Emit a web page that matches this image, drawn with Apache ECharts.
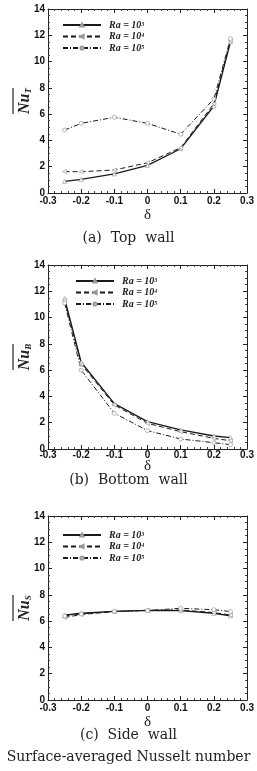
<!DOCTYPE html>
<html lang="en">
<head>
  <meta charset="UTF-8">
  <title>Surface-averaged Nusselt number</title>
  <script src="https://cdn.jsdelivr.net/npm/echarts@6/dist/echarts.min.js"></script>
  <style>
    html, body { margin: 0; padding: 0; background: #fff; }
  </style>
</head>
<body>
  <div id="chart" style="width:257px;height:771px"></div>
  <script>
    // delta values (x)
    var delta = [-0.25, -0.2, -0.1, 0, 0.1, 0.2, 0.25]
    var raNames = ['Ra3', 'Ra4', 'Ra5']
    var raExp = ['3', '4', '5']

    // (a) top wall
    var topRa3 = [0.89, 1.04, 1.45, 2.1, 3.37, 6.62, 11.5]
    var topRa4 = [1.63, 1.62, 1.75, 2.3, 3.45, 6.8, 11.6]
    var topRa5 = [4.79, 5.3, 5.76, 5.3, 4.47, 7.15, 11.75]
    // (b) bottom wall
    var botRa3 = [11.45, 6.6, 3.45, 2.08, 1.45, 0.99, 0.86]
    var botRa4 = [11.3, 6.45, 3.35, 1.95, 1.32, 0.81, 0.63]
    var botRa5 = [11.1, 6.0, 2.72, 1.4, 0.76, 0.48, 0.33]
    // (c) side wall
    var sideRa3 = [6.45, 6.6, 6.75, 6.82, 6.8, 6.6, 6.4]
    var sideRa4 = [6.27, 6.5, 6.73, 6.83, 6.85, 6.65, 6.47]
    var sideRa5 = [6.4, 6.55, 6.75, 6.8, 6.98, 6.87, 6.73]

    var panels = [
      { sub: 'T', caption: '(a)  Top  wall', data: [topRa3, topRa4, topRa5] },
      { sub: 'B', caption: '(b)  Bottom  wall', data: [botRa3, botRa4, botRa5] },
      { sub: 'S', caption: '(c)  Side  wall', data: [sideRa3, sideRa4, sideRa5] }
    ]

    var gridTops = [9, 265, 516]
    var legendPos = [{ left: 62, top: 20 }, { left: 75, top: 276 }, { left: 62, top: 530 }]
    var captionTops = [226, 468, 723]
    // panel (b) is a bit squeezed under its axis in the original
    var xNameGap = [15, 10, 15]
    var xLabelMargin = [3, 1, 3]

    var lineTypes = ['solid', [5, 3], [5, 2, 1, 2]]
    var symbols = ['triangle', 'triangle', 'circle']
    var symbolRot = [0, 90, 0]

    var mCharts = echarts.init(document.getElementById('chart'))

    var grid = [], xAxis = [], yAxis = [], series = [], legend = [], title = [], graphic = []

    var tickLabel = { fontFamily: 'Liberation Sans', fontWeight: 'bold', fontSize: 10, color: '#111' }
    var axLine = { onZero: false, lineStyle: { color: '#222', width: 1 } }
    var axTick = { inside: true, length: 4, lineStyle: { color: '#222' } }

    panels.forEach(function (p, i) {
      grid.push({ left: 48, right: 8, top: gridTops[i], height: 184 })
      // bottom x axis
      xAxis.push({
        type: 'value', gridIndex: i, min: -0.3, max: 0.3, interval: 0.1,
        name: 'δ', nameLocation: 'middle', nameGap: xNameGap[i], nameMoveOverlap: false,
        nameTextStyle: { fontFamily: 'Liberation Serif', fontSize: 15, color: '#222' },
        axisLine: axLine, axisTick: axTick,
        minorTick: { show: true, splitNumber: 5, length: 2, lineStyle: { color: '#444' } },
        splitLine: { show: false },
        axisLabel: Object.assign({ margin: xLabelMargin[i], formatter: function (v) {
          return Math.abs(v) < 1e-9 ? '0' : v.toFixed(1)
        } }, tickLabel)
      })
      // top mirror
      xAxis.push({
        type: 'value', gridIndex: i, position: 'top', min: -0.3, max: 0.3, interval: 0.1,
        axisLine: axLine, axisTick: axTick,
        minorTick: { show: true, splitNumber: 5, length: 2, lineStyle: { color: '#444' } },
        splitLine: { show: false }, axisLabel: { show: false }
      })
      yAxis.push({
        type: 'value', gridIndex: i, min: 0, max: 14, interval: 2,
        name: '{n|Nu}{s|' + p.sub + '}', nameLocation: 'middle', nameGap: 15, nameRotate: 90,
        nameMoveOverlap: false,
        nameTextStyle: {
          rich: {
            n: { fontFamily: 'Liberation Serif', fontWeight: 'bold', fontStyle: 'italic', fontSize: 16, color: '#222' },
            s: { fontFamily: 'Liberation Serif', fontWeight: 'bold', fontStyle: 'italic', fontSize: 9, color: '#222', verticalAlign: 'bottom', padding: [6, 0, 0, 0] }
          }
        },
        axisLine: axLine, axisTick: axTick,
        minorTick: { show: true, splitNumber: 4, length: 2, lineStyle: { color: '#444' } },
        splitLine: { show: false },
        axisLabel: Object.assign({ margin: 3 }, tickLabel)
      })
      yAxis.push({
        type: 'value', gridIndex: i, position: 'right', min: 0, max: 14, interval: 2,
        axisLine: axLine, axisTick: axTick,
        minorTick: { show: true, splitNumber: 4, length: 2, lineStyle: { color: '#444' } },
        splitLine: { show: false }, axisLabel: { show: false }
      })

      p.data.forEach(function (vals, k) {
        series.push({
          type: 'line', name: raNames[k], xAxisIndex: i * 2, yAxisIndex: i * 2,
          data: delta.map(function (d, j) { return [d, vals[j]] }),
          symbol: symbols[k], symbolRotate: symbolRot[k], symbolSize: 4,
          showAllSymbol: true,
          lineStyle: { color: '#1a1a1a', width: k === 0 ? 1.3 : 1, type: lineTypes[k] },
          itemStyle: { color: '#fff', borderColor: '#999', borderWidth: 0.7 },
          emphasis: { disabled: true },
          animation: false
        })
      })

      legend.push({
        orient: 'vertical', left: legendPos[i].left, top: legendPos[i].top,
        padding: 0,
        data: raNames, itemWidth: 38, itemHeight: 4, itemGap: 1.5,
        selectedMode: false,
        formatter: function (name) {
          return '{a|Ra = 10}{s|' + raExp[raNames.indexOf(name)] + '}'
        },
        textStyle: {
          padding: [0, 0, 0, 3],
          rich: {
            a: { fontFamily: 'Liberation Serif', fontWeight: 'bold', fontStyle: 'italic', fontSize: 10, color: '#222', lineHeight: 8 },
            s: { fontFamily: 'Liberation Serif', fontWeight: 'bold', fontStyle: 'italic', fontSize: 6, color: '#222', verticalAlign: 'top', lineHeight: 8 }
          }
        }
      })

      title.push({
        text: p.caption, left: 'center', top: captionTops[i],
        textStyle: { fontFamily: 'DejaVu Serif', fontWeight: 'normal', fontSize: 14, color: '#222' }
      })

      // overline above the Nu label
      var mid = gridTops[i] + 92
      graphic.push({
        type: 'line', shape: { x1: 13, y1: mid - 13, x2: 13, y2: mid + 13 },
        style: { stroke: '#222', lineWidth: 1.2 }
      })
    })

    title.push({
      text: 'Surface-averaged Nusselt number', left: 'center', top: 745,
      textStyle: { fontFamily: 'DejaVu Serif', fontWeight: 'normal', fontSize: 14, color: '#222' }
    })

    var option = {
      backgroundColor: '#fff',
      animation: false,
      title: title,
      legend: legend,
      grid: grid,
      xAxis: xAxis,
      yAxis: yAxis,
      graphic: graphic,
      series: series
    }
    mCharts.setOption(option)
  </script>
</body>
</html>
